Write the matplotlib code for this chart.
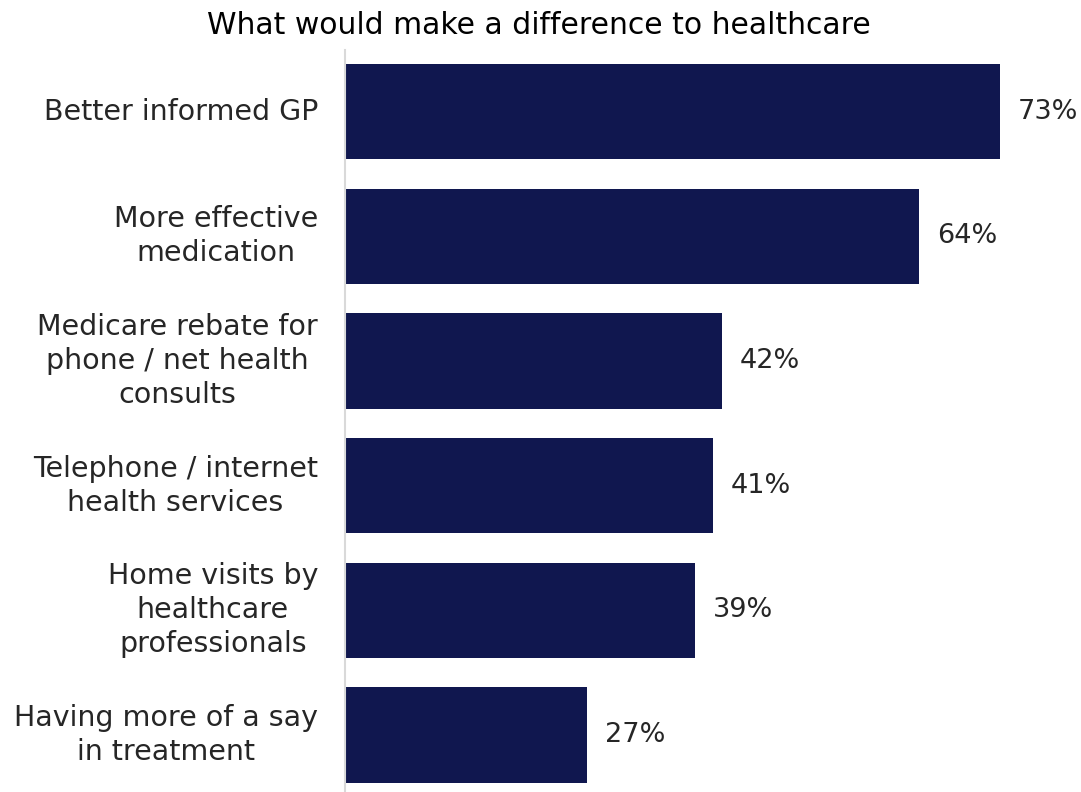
import matplotlib
matplotlib.use("Agg")
import matplotlib.pyplot as plt

categories = [
    "Better informed GP",
    "More effective\nmedication",
    "Medicare rebate for\nphone / net health\nconsults",
    "Telephone / internet\nhealth services",
    "Home visits by\nhealthcare\nprofessionals",
    "Having more of a say\nin treatment",
]
values = [73, 64, 42, 41, 39, 27]
title = "What would make a difference to healthcare"

bar_color = "#10174F"
text_color = "#262626"

plt.rcParams["font.family"] = ["DejaVu Sans"]

W, H = 1081, 792
fig = plt.figure(figsize=(W / 100, H / 100), dpi=100)
ax = fig.add_axes([345 / W, 0, (W - 345) / W, 742 / H])

ypos = list(range(len(categories)))
ax.barh(ypos, values, height=0.765, color=bar_color, zorder=2)
ax.set_xlim(0, (W - 345) / 8.97)
ax.set_ylim(5.457, -0.494)

for y, v in zip(ypos, values):
    ax.annotate(f"{v}%", xy=(v, y), xytext=(18, 0), textcoords="offset pixels",
                ha="left", va="center", fontsize=19.5, color=text_color)

for y, lab in zip(ypos, categories):
    ax.annotate(lab, xy=(0, y), xytext=(-27, 0), textcoords="offset pixels",
                ha="right", va="center", ma="center", fontsize=20.5,
                color=text_color, linespacing=1.28)

ax.set_xticks([])
ax.set_yticks([])
for s in ["top", "right", "bottom"]:
    ax.spines[s].set_visible(False)
ax.spines["left"].set_color("#d9d9d9")
ax.spines["left"].set_linewidth(1.5)

fig.text(539 / W, 1 - 25 / H, title, ha="center", va="center",
         fontsize=21.5, color="black")

fig.savefig("out.png", dpi=100)
